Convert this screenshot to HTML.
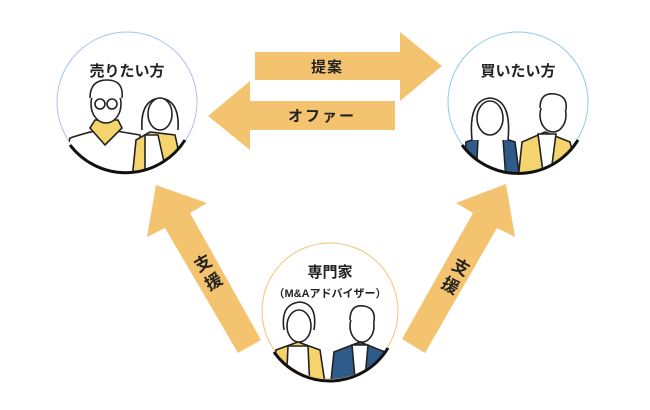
<!DOCTYPE html>
<html><head><meta charset="utf-8"><style>
html,body{margin:0;padding:0;background:#fff;}
svg{display:block;}
text{font-family:"Liberation Sans","Noto Sans CJK JP",sans-serif;font-weight:bold;fill:#222;}
</style></head><body>
<svg width="650" height="410" viewBox="0 0 650 410" xmlns="http://www.w3.org/2000/svg">
<defs>
<clipPath id="c1"><circle cx="127" cy="102" r="70"/></clipPath>
<clipPath id="c2"><circle cx="518" cy="102" r="70"/></clipPath>
<clipPath id="c3"><circle cx="330" cy="311" r="68"/></clipPath>
</defs>
<g fill="#f4c36f">
<polygon points="255,52 400,52 400,32 442,66 400,101 400,80 255,80"/>
<polygon points="395,101 250,101 250,81 208,116 250,150 250,130 395,130"/>
<polygon points="238,353 261,340 190,213 207,203 156,185 147,237 165,228"/>
<polygon points="425,353 402,339 473,213 456,203 506,184 515,237 497,228"/>
</g>
<text x="327" y="72" font-size="15" text-anchor="middle" letter-spacing="1">提案</text>
<text x="322" y="121" font-size="15" text-anchor="middle" letter-spacing="2">オファー</text>
<g transform="translate(208,272) rotate(-30)"><text x="0" y="-4" font-size="17" text-anchor="middle">支</text><text x="0" y="17" font-size="17" text-anchor="middle">援</text></g>
<g transform="translate(456,276) rotate(30)"><text x="0" y="-4" font-size="17" text-anchor="middle">支</text><text x="0" y="17" font-size="17" text-anchor="middle">援</text></g>

<circle cx="127" cy="102" r="70" fill="#fff" stroke="#a9c1f2" stroke-width="1"/>
<g clip-path="url(#c1)" stroke="#222" stroke-width="1.6">
<path d="M60,180 L70,138 Q100,128 110,130 L140,135 L142,180Z" fill="#fff"/>
<path d="M90,128 L105,145 L122,128 L118,120 L95,120Z" fill="#f5d36d"/>
<ellipse cx="106" cy="104" rx="15" ry="19" fill="#fff"/>
<path d="M90,98 Q90,80 107,80 Q124,80 122,98" fill="#fff"/>
<circle cx="100" cy="104" r="5" fill="none"/><circle cx="112" cy="104" r="5" fill="none"/>
<path d="M132,180 L136,140 L150,132 L175,135 L185,180Z" fill="#f5d36d"/>
<path d="M145,135 L158,135 L168,180 L145,180Z" fill="#fff"/>
<path d="M142,130 Q140,100 160,98 Q180,100 178,130" fill="#fff"/>
<ellipse cx="160" cy="114" rx="12" ry="16" fill="#fff"/>
</g>
<path d="M70,145 A70,70 0 0 0 185,140" fill="none" stroke="#111" stroke-width="3"/>
<text x="127" y="76" font-size="15" text-anchor="middle">売りたい方</text>

<circle cx="518" cy="102" r="70" fill="#fff" stroke="#8fcbea" stroke-width="1"/>
<g clip-path="url(#c2)" stroke="#222" stroke-width="1.6">
<path d="M462,180 L466,142 L490,134 L515,142 L520,180Z" fill="#2f5b8a"/>
<path d="M478,138 L503,138 L506,180 L476,180Z" fill="#fff"/>
<path d="M472,140 Q468,100 490,98 Q512,100 508,140" fill="#fff"/>
<ellipse cx="490" cy="118" rx="13" ry="17" fill="#fff"/>
<path d="M518,180 L522,142 L545,132 L570,142 L580,180Z" fill="#f5d36d"/>
<path d="M538,134 L556,134 L550,180 L544,180Z" fill="#fff"/>
<ellipse cx="553" cy="115" rx="13" ry="17" fill="#fff"/>
<path d="M540,108 Q540,92 555,94 Q568,96 566,110" fill="#fff"/>
</g>
<path d="M462,145 A70,70 0 0 0 578,140" fill="none" stroke="#111" stroke-width="3"/>
<text x="518" y="76" font-size="15" text-anchor="middle">買いたい方</text>

<circle cx="330" cy="311" r="68" fill="#fff" stroke="#f5c27a" stroke-width="1"/>
<g clip-path="url(#c3)" stroke="#222" stroke-width="1.6">
<path d="M272,390 L276,350 L298,342 L320,350 L326,390Z" fill="#f5d36d"/>
<path d="M288,346 L308,346 L310,390 L286,390Z" fill="#fff"/>
<path d="M284,330 Q280,304 300,302 Q318,304 314,330" fill="#fff"/>
<ellipse cx="299" cy="326" rx="12" ry="16" fill="#fff"/>
<path d="M330,390 L334,352 L360,342 L385,352 L392,390Z" fill="#2f5b8a"/>
<path d="M352,345 L368,345 L364,390 L356,390Z" fill="#fff"/>
<ellipse cx="362" cy="326" rx="12" ry="16" fill="#fff"/>
<path d="M350,320 Q350,304 364,306 Q376,308 374,322" fill="#fff"/>
</g>
<path d="M274,352 A68,68 0 0 0 388,348" fill="none" stroke="#111" stroke-width="3"/>
<text x="330" y="277" font-size="15" text-anchor="middle">専門家</text>
<text x="330" y="297" font-size="11" text-anchor="middle">（M&amp;Aアドバイザー）</text>
</svg>
</body></html>
